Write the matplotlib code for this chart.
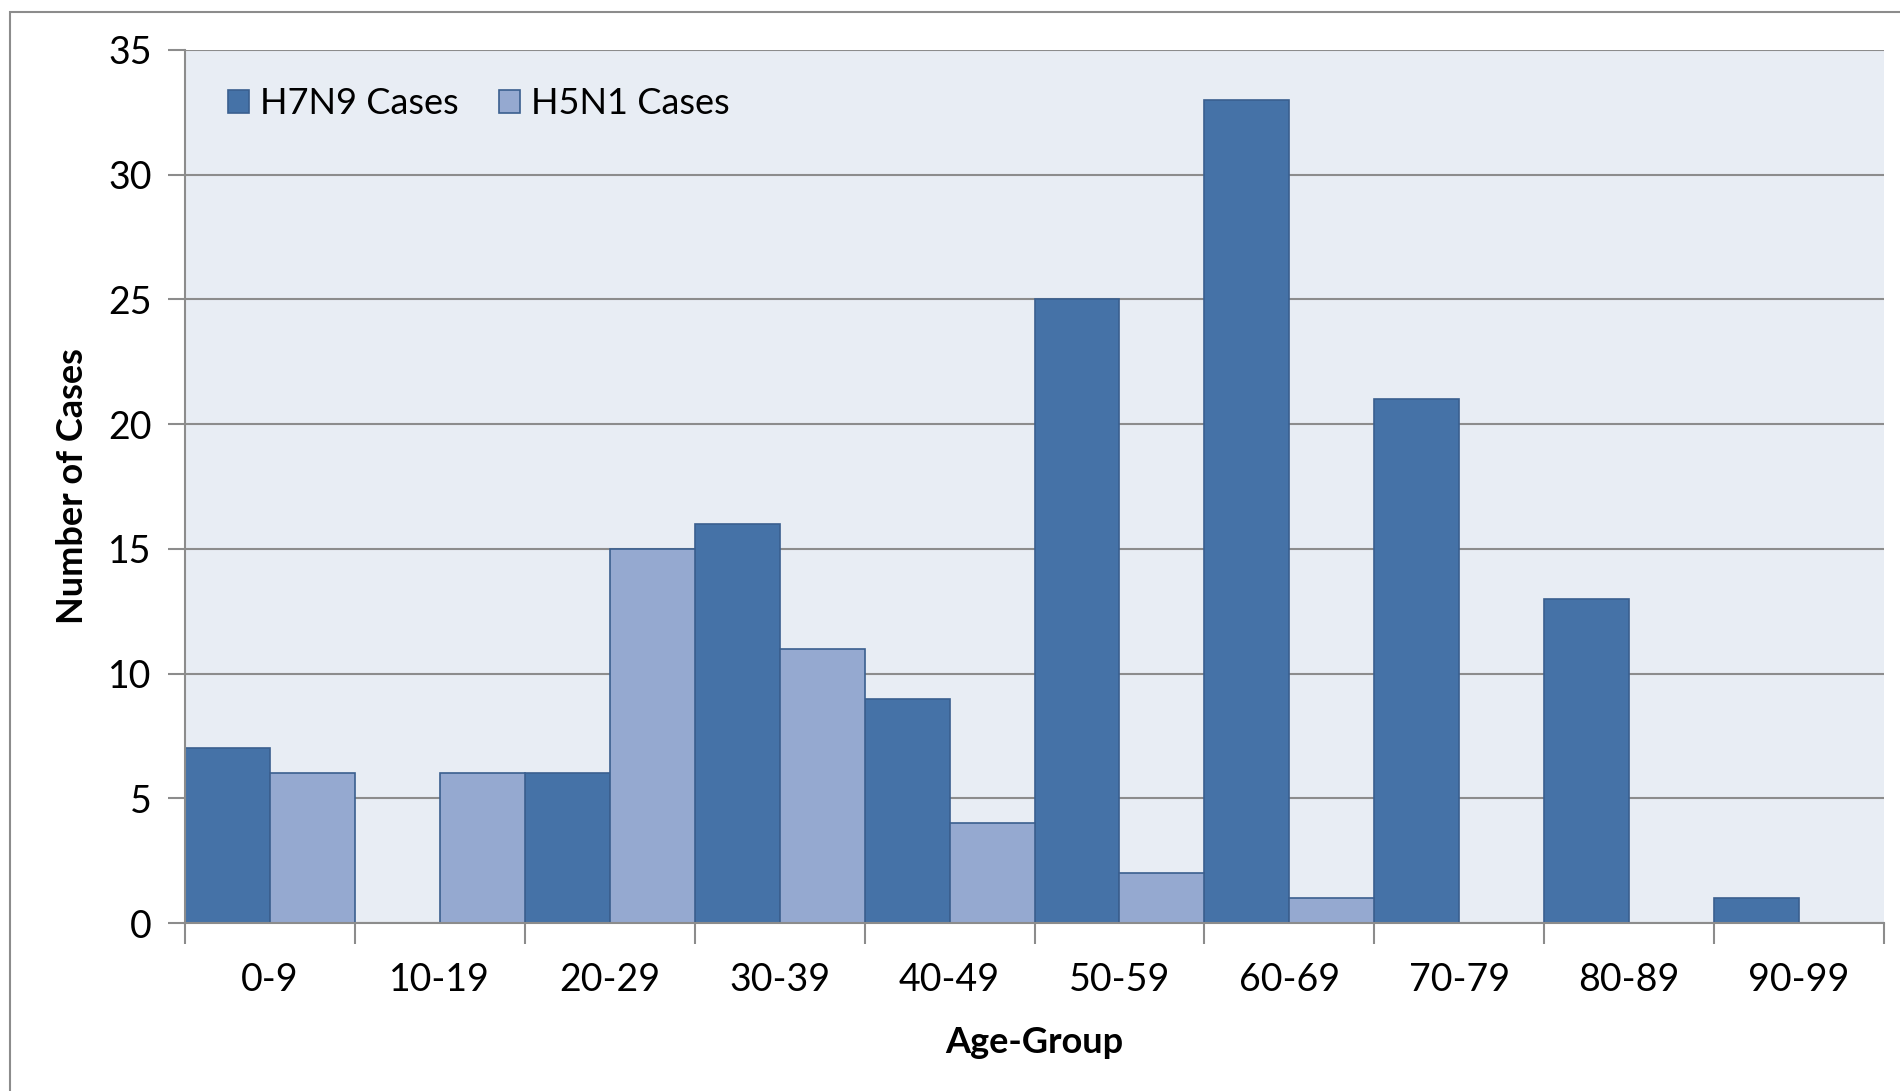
import matplotlib
matplotlib.use("Agg")
import matplotlib.pyplot as plt
from matplotlib.patches import Rectangle
import numpy as np

# Age groups and case counts
age_groups = ["0-9", "10-19", "20-29", "30-39", "40-49",
              "50-59", "60-69", "70-79", "80-89", "90-99"]
h7n9 = [7, 0, 6, 16, 9, 25, 33, 21, 13, 1]
h5n1 = [6, 6, 15, 11, 4, 2, 1, 0, 0, 0]

DARK = "#4572A7"
LIGHT = "#95A9D0"
EDGE = "#3A5F8F"
BG = "#E8EDF4"
GRID = "#8C8C8C"

plt.rcParams['font.family'] = ['Lato', 'DejaVu Sans']

fig = plt.figure(figsize=(19, 10.91), dpi=100)
fig.patches.append(Rectangle((10/1900, -0.1), 1.2, 1 - 12/1091 + 0.1,
                             transform=fig.transFigure, fill=False,
                             edgecolor="#8C8C8C", linewidth=1.5))

ax = fig.add_axes([185/1900, 1 - 923/1091, (1884 - 185)/1900, (923 - 50)/1091])
ax.set_facecolor(BG)

xx = np.arange(len(age_groups))
ax.bar(xx + 0.25, h7n9, width=0.5, color=DARK, edgecolor=EDGE, linewidth=1.2,
       label="H7N9 Cases", zorder=3)
ax.bar(xx + 0.75, h5n1, width=0.5, color=LIGHT, edgecolor=EDGE, linewidth=1.2,
       label="H5N1 Cases", zorder=3)

ax.set_xlim(0, 10)
ax.set_ylim(0, 35)
ax.set_yticks(range(0, 36, 5))
ax.yaxis.grid(True, color=GRID, linewidth=1.5, zorder=1)
ax.set_axisbelow(True)

ax.set_xticks(range(0, 11))
ax.set_xticklabels([])
ax.set_xticks(xx + 0.5, minor=True)
ax.set_xticklabels(age_groups, minor=True)
ax.tick_params(axis="x", which="major", length=15, width=1.5, color=GRID, direction="out")
ax.tick_params(axis="x", which="minor", length=0, pad=28, labelsize=27)
ax.tick_params(axis="y", length=12, width=1.5, color=GRID, direction="out",
               labelsize=27, pad=12)

for s in ["top", "right"]:
    ax.spines[s].set_visible(False)
for s in ["left", "bottom"]:
    ax.spines[s].set_color(GRID)
    ax.spines[s].set_linewidth(1.5)
    ax.spines[s].set_zorder(4)

ax.set_xlabel("Age-Group", fontsize=26, fontweight="bold", labelpad=20)
ax.set_ylabel("Number of Cases", fontsize=26, fontweight="bold", labelpad=14)

ax.legend(loc="upper left", bbox_to_anchor=(0.006, 0.995), ncol=2, frameon=False,
          fontsize=26, handlelength=0.6, handleheight=0.6, handletextpad=0.3,
          columnspacing=1.1)

fig.savefig("out.png", dpi=100)
